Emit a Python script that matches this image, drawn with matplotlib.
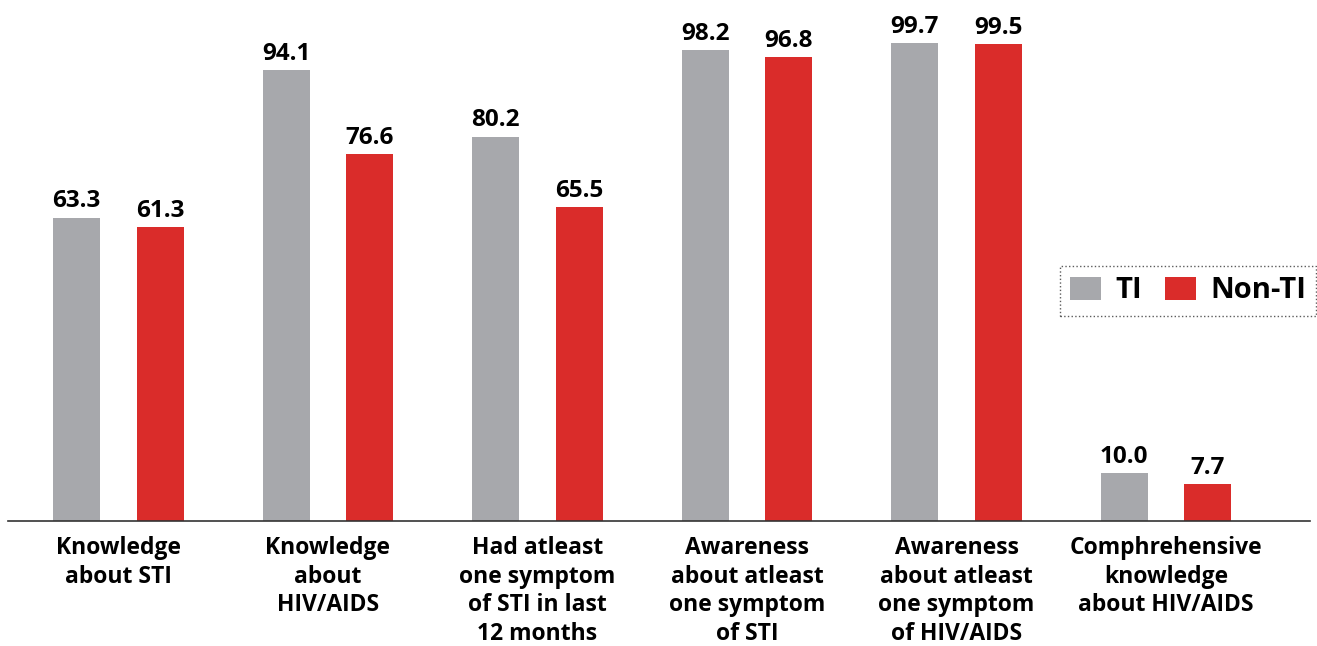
import numpy as np
import matplotlib.pyplot as plt

plt.rcParams['font.family'] = ['Open Sans', 'DejaVu Sans']

categories = [
    'Knowledge\nabout STI',
    'Knowledge\nabout\nHIV/AIDS',
    'Had atleast\none symptom\nof STI in last\n12 months',
    'Awareness\nabout atleast\none symptom\nof STI',
    'Awareness\nabout atleast\none symptom\nof HIV/AIDS',
    'Comphrehensive\nknowledge\nabout HIV/AIDS',
]
ti = [63.3, 94.1, 80.2, 98.2, 99.7, 10.0]
non_ti = [61.3, 76.6, 65.5, 96.8, 99.5, 7.7]

gray = '#A7A8AC'
red = '#DA2C2A'

fig = plt.figure(figsize=(13.17, 6.46), dpi=100)
ax = fig.add_axes([8 / 1317, 125 / 646, 1302 / 1317, 521 / 646])

x = np.arange(len(categories))
w = 0.224
b1 = ax.bar(x - 0.2, ti, w, color=gray, label='TI')
b2 = ax.bar(x + 0.2, non_ti, w, color=red, label='Non-TI')
ax.bar_label(b1, fmt='%.1f', padding=3, fontsize=17.5, fontweight='bold')
ax.bar_label(b2, fmt='%.1f', padding=3, fontsize=17.5, fontweight='bold')

ax.set_xlim(-0.527, 5.687)
ax.set_ylim(0, 108.7)
ax.set_xticks(x)
ax.set_xticklabels(categories, fontsize=16.5, fontweight='bold', linespacing=1.25)
ax.tick_params(axis='x', length=0, pad=11)
ax.set_yticks([])
for s in ['top', 'right', 'left']:
    ax.spines[s].set_visible(False)
ax.spines['bottom'].set_color('#333333')
ax.spines['bottom'].set_linewidth(1.2)

leg = fig.legend(loc='center', bbox_to_anchor=(1188 / 1317, 1 - 291 / 646), ncol=2,
                 frameon=True, fancybox=False, handlelength=1.05,
                 handleheight=0.85, columnspacing=0.8, borderpad=0.35, handletextpad=0.5,
                 prop={'weight': 'bold', 'size': 21})
leg.get_frame().set_edgecolor('#333333')
leg.get_frame().set_linestyle(':')
leg.get_frame().set_linewidth(1.0)

plt.savefig('out.png', dpi=100)
